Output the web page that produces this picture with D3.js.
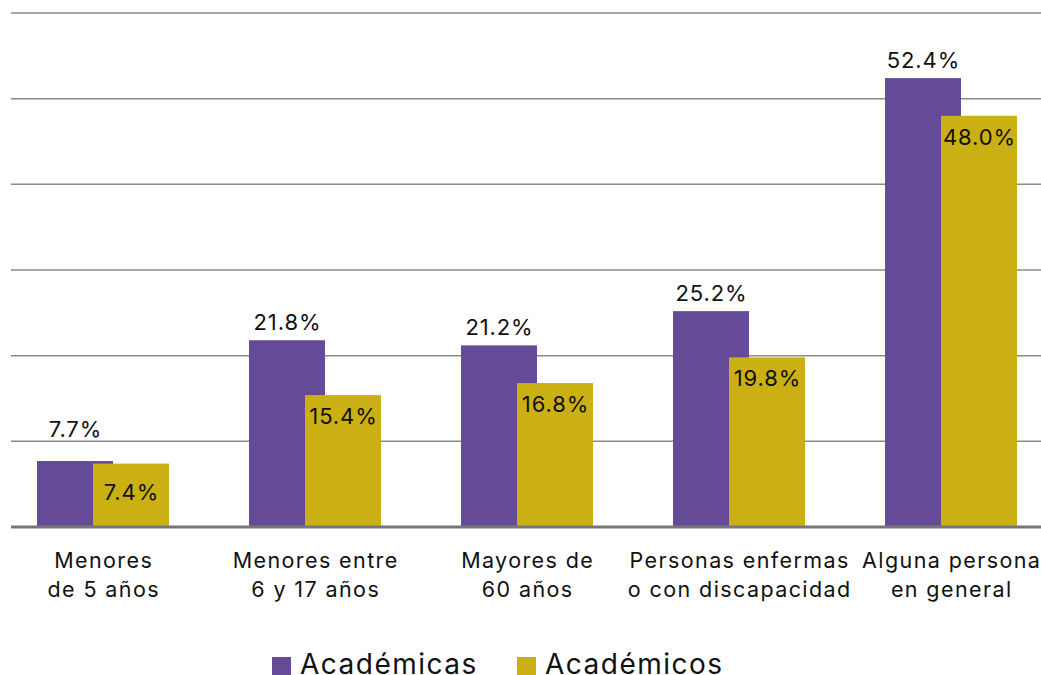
<!DOCTYPE html>
<html><head><meta charset="utf-8">
<script src="https://cdn.jsdelivr.net/npm/d3@7"></script>
<style>body{margin:0;background:#fff}svg{display:block}text{font-family:Inter,"Noto Sans",sans-serif;fill:#111}</style>
</head><body><svg id="c" width="1041" height="675"></svg>
<script>
const categories = [["Menores","de 5 años"],["Menores entre","6 y 17 años"],["Mayores de","60 años"],["Personas enfermas","o con discapacidad"],["Alguna persona","en general"]];
const seriesNames = ["Académicas","Académicos"];
const academicas = [7.7, 21.8, 21.2, 25.2, 52.4];
const academicos = [7.4, 15.4, 16.8, 19.8, 48.0];
const yTicks = [0,10,20,30,40,50,60];
const colors = ["#654B97","#CBB013"];

const svg = d3.select("#c");
const keys = categories.map(c=>c.join(" "));
const x = d3.scaleBand().domain(keys).range([-3,1057]).paddingInner(80/212).paddingOuter(40/212);
const y = d3.scaleLinear().domain([0,60]).range([527,13]);
const bw = x.bandwidth()*76/132;
const off = [0, x.bandwidth()-bw];

// gridlines
svg.append("g").selectAll("line").data(yTicks.filter(d=>d>0)).join("line")
  .attr("x1",11).attr("x2",1041).attr("y1",d=>y(d)).attr("y2",d=>y(d))
  .attr("stroke","#8a8a8a").attr("stroke-width",1.5);

const data = keys.map((k,i)=>({k, vals:[academicas[i], academicos[i]]}));
const g = svg.append("g").selectAll("g").data(data).join("g").attr("transform",d=>`translate(${x(d.k)},0)`);
g.selectAll("rect").data(d=>d.vals.map((v,j)=>({v,j}))).join("rect")
  .attr("x",d=>off[d.j]).attr("width",bw).attr("y",d=>y(d.v)).attr("height",d=>y(0)-y(d.v))
  .attr("fill",d=>colors[d.j]);

const fmt = v=>v.toFixed(1)+"%";
const lblStyle = s=>s.attr("text-anchor","middle").attr("font-size",22).attr("letter-spacing",0.9);
// purple labels above
g.append("text").call(lblStyle)
  .attr("x",off[0]+bw/2+0.5)
  .attr("y",d=>{
    let b = y(d.vals[0]) - 10;
    for (const t of yTicks){ const gy=y(t); if (gy>b-16 && gy<b+2) b = gy - 4; }
    return b;
  })
  .text(d=>fmt(d.vals[0]));
// gold labels inside
g.append("text").call(lblStyle)
  .attr("x",off[1]+bw/2+0.5)
  .attr("y",d=>{ const t=y(d.vals[1]), h=y(0)-t; return h<70 ? (t+y(0))/2+5 : t+29; })
  .text(d=>fmt(d.vals[1]));

// baseline
svg.append("line").attr("x1",11).attr("x2",1041).attr("y1",y(0)).attr("y2",y(0))
  .attr("stroke","#777").attr("stroke-width",3);

// category labels
const cl = svg.append("g").selectAll("text").data(categories).join("text")
  .attr("text-anchor","middle").attr("font-size",21.5).attr("letter-spacing",1.4)
  .attr("x",(d,i)=>x(keys[i])+x.bandwidth()/2+0.7).attr("y",568);
cl.selectAll("tspan").data(d=>d).join("tspan")
  .attr("x",function(){return d3.select(this.parentNode).attr("x");})
  .attr("dy",(d,i)=>i?29:0).text(d=>d);

// legend
const legX = [272, 517];
const lg = svg.append("g").selectAll("g").data(seriesNames).join("g").attr("transform",(d,i)=>`translate(${legX[i]},0)`);
lg.append("rect").attr("x",0).attr("y",657).attr("width",19).attr("height",19).attr("fill",(d,i)=>colors[i]);
lg.append("text").attr("x",28).attr("y",674).attr("font-size",28).attr("letter-spacing",1.5).text(d=>d);
</script></body></html>
